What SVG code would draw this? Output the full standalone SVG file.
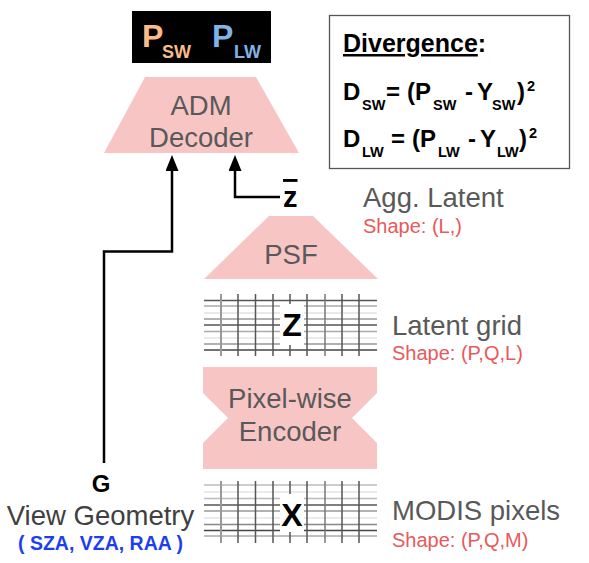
<svg xmlns="http://www.w3.org/2000/svg" width="589" height="563" viewBox="0 0 589 563">
<defs>
<style>
text{font-family:"Liberation Sans",Arial,sans-serif}
.shape{fill:#F8C5C5}
.lbl{fill:#595959;font-size:27.5px}
.cen{text-anchor:middle}
.red{fill:#E85A5C;font-size:20px}
.b{font-weight:bold}
.conn{fill:none;stroke:#000;stroke-width:2.5}
.eq{font-size:24px;font-weight:bold;fill:#000}
.sub{font-size:14.5px;font-weight:bold;fill:#000}
.hl{stroke-width:1.3}
.vl{stroke-width:1.5}
</style>
<marker id="ah" viewBox="0 0 16 13" markerWidth="16" markerHeight="13" refX="0" refY="6.5" orient="auto" markerUnits="userSpaceOnUse">
<path d="M0,0 L16,6.5 L0,13 z" fill="#000"/>
</marker>
</defs>
<rect width="589" height="563" fill="#fff"/>

<g id="connectors">
<path class="conn" d="M104,463 V251.5 H172 V171" marker-end="url(#ah)"/>
<path class="conn" d="M280,197 H235 V171" marker-end="url(#ah)"/>
</g>

<g id="output">
<rect x="132" y="11" width="139" height="52" fill="#000"/>
<text x="142" y="47" class="b" font-size="32" fill="#F9BA8C">P</text>
<text x="162" y="58" class="b" font-size="18" fill="#F9BA8C">SW</text>
<text x="212" y="47" class="b" font-size="32" fill="#80B3E6">P</text>
<text x="234" y="58" class="b" font-size="18" fill="#80B3E6">LW</text>
</g>

<g id="decoder">
<polygon class="shape" points="145,77 256,77 299,153 104,153"/>
<text x="201" y="115" class="lbl cen">ADM</text>
<text x="201" y="147" class="lbl cen">Decoder</text>
</g>

<g id="divergence">
<rect x="329.5" y="15.5" width="240" height="153" fill="#fff" stroke="#555" stroke-width="1.3"/>
<text x="343" y="52" class="eq" style="font-size:25px"><tspan text-decoration="underline">Divergence</tspan>:</text>
<text x="343" y="100" class="eq">D</text>
<text x="362" y="110" class="sub">SW</text>
<text x="386" y="100" class="eq">=</text>
<text x="407" y="100" class="eq">(P</text>
<text x="433" y="110" class="sub">SW</text>
<text x="465" y="100" class="eq">-</text>
<text x="477" y="100" class="eq">Y</text>
<text x="492" y="110" class="sub">SW</text>
<text x="517" y="100" class="eq">)</text>
<text x="527" y="91" class="sub">2</text>
<text x="343" y="147" class="eq">D</text>
<text x="362" y="157" class="sub">LW</text>
<text x="391" y="147" class="eq">=</text>
<text x="412" y="147" class="eq">(P</text>
<text x="438" y="157" class="sub">LW</text>
<text x="468" y="147" class="eq">-</text>
<text x="480" y="147" class="eq">Y</text>
<text x="497" y="157" class="sub">LW</text>
<text x="519" y="147" class="eq">)</text>
<text x="529" y="138" class="sub">2</text>
</g>

<g id="aggLatent">
<text x="283" y="207" class="b" font-size="29" fill="#000" text-decoration="overline">z</text>
<text x="363" y="207" class="lbl">Agg. Latent</text>
<text x="363" y="233" class="red">Shape: (L,)</text>
</g>

<g id="psf">
<polygon class="shape" points="269,216 313,216 378,279 204,279"/>
<text x="291" y="264" class="lbl cen">PSF</text>
</g>

<g id="latentGrid">
<g class="hl">
<line x1="204" x2="377" y1="300.5" y2="300.5" stroke="#555"/>
<line x1="204" x2="377" y1="306" y2="306" stroke="#aaa"/>
<line x1="204" x2="377" y1="313" y2="313" stroke="#e2e2e2"/>
<line x1="204" x2="377" y1="319" y2="319" stroke="#999"/>
<line x1="204" x2="377" y1="325" y2="325" stroke="#555"/>
<line x1="204" x2="377" y1="331.5" y2="331.5" stroke="#aaa"/>
<line x1="204" x2="377" y1="338" y2="338" stroke="#e5e5e5"/>
<line x1="204" x2="377" y1="344" y2="344" stroke="#999"/>
<line x1="204" x2="377" y1="350" y2="350" stroke="#444"/>
</g>
<g class="vl" stroke="#555">
<line x1="221" x2="221" y1="294" y2="356" stroke="#999" stroke-width="2"/>
<line x1="238" x2="238" y1="294" y2="356"/>
<line x1="255.5" x2="255.5" y1="294" y2="356"/>
<line x1="273" x2="273" y1="294" y2="356"/>
<line x1="290" x2="290" y1="294" y2="356"/>
<line x1="307" x2="307" y1="294" y2="356"/>
<line x1="325" x2="325" y1="294" y2="356" stroke="#777"/>
<line x1="342" x2="342" y1="294" y2="356"/>
<line x1="359" x2="359" y1="294" y2="356"/>
</g>
<rect x="280" y="304" width="24" height="41" fill="#fff"/>
<text x="292" y="336" class="b cen" font-size="32" fill="#000">Z</text>
<text x="392" y="335" class="lbl">Latent grid</text>
<text x="392" y="360" class="red">Shape: (P,Q,L)</text>
</g>

<g id="encoder">
<polygon class="shape" points="203,367 377,367 377,393 352,418 377,443 377,469 203,469 203,443 228,418 203,393"/>
<text x="290" y="408" class="lbl cen">Pixel-wise</text>
<text x="290" y="441" class="lbl cen">Encoder</text>
</g>

<g id="pixels">
<g class="hl">
<line x1="204" x2="377" y1="485" y2="485" stroke="#bbb"/>
<line x1="204" x2="377" y1="492" y2="492" stroke="#e5e5e5"/>
<line x1="204" x2="377" y1="498.5" y2="498.5" stroke="#bbb"/>
<line x1="204" x2="377" y1="505" y2="505" stroke="#555"/>
<line x1="204" x2="377" y1="511" y2="511" stroke="#999"/>
<line x1="204" x2="377" y1="518" y2="518" stroke="#e5e5e5"/>
<line x1="204" x2="377" y1="524.5" y2="524.5" stroke="#888"/>
<line x1="204" x2="377" y1="530.5" y2="530.5" stroke="#444"/>
<line x1="204" x2="377" y1="536" y2="536" stroke="#aaa"/>
</g>
<g class="vl" stroke="#555">
<line x1="221" x2="221" y1="481" y2="543" stroke="#999" stroke-width="2"/>
<line x1="238" x2="238" y1="481" y2="543"/>
<line x1="255.5" x2="255.5" y1="481" y2="543"/>
<line x1="273" x2="273" y1="481" y2="543"/>
<line x1="290" x2="290" y1="481" y2="543"/>
<line x1="307" x2="307" y1="481" y2="543"/>
<line x1="325" x2="325" y1="481" y2="543" stroke="#777"/>
<line x1="342" x2="342" y1="481" y2="543"/>
<line x1="359" x2="359" y1="481" y2="543"/>
</g>
<rect x="280" y="494" width="24" height="38" fill="#fff"/>
<text x="292" y="526" class="b cen" font-size="32" fill="#000">X</text>
<text x="392" y="520" class="lbl">MODIS pixels</text>
<text x="392" y="547" class="red">Shape: (P,Q,M)</text>
</g>

<g id="geometry">
<text x="101" y="492" class="b cen" font-size="24" fill="#000">G</text>
<text x="100.5" y="525" class="lbl cen" style="fill:#404040">View Geometry</text>
<text x="100.5" y="550" class="b cen" font-size="19.5" fill="#1A3EF0">( SZA, VZA, RAA )</text>
</g>
</svg>
